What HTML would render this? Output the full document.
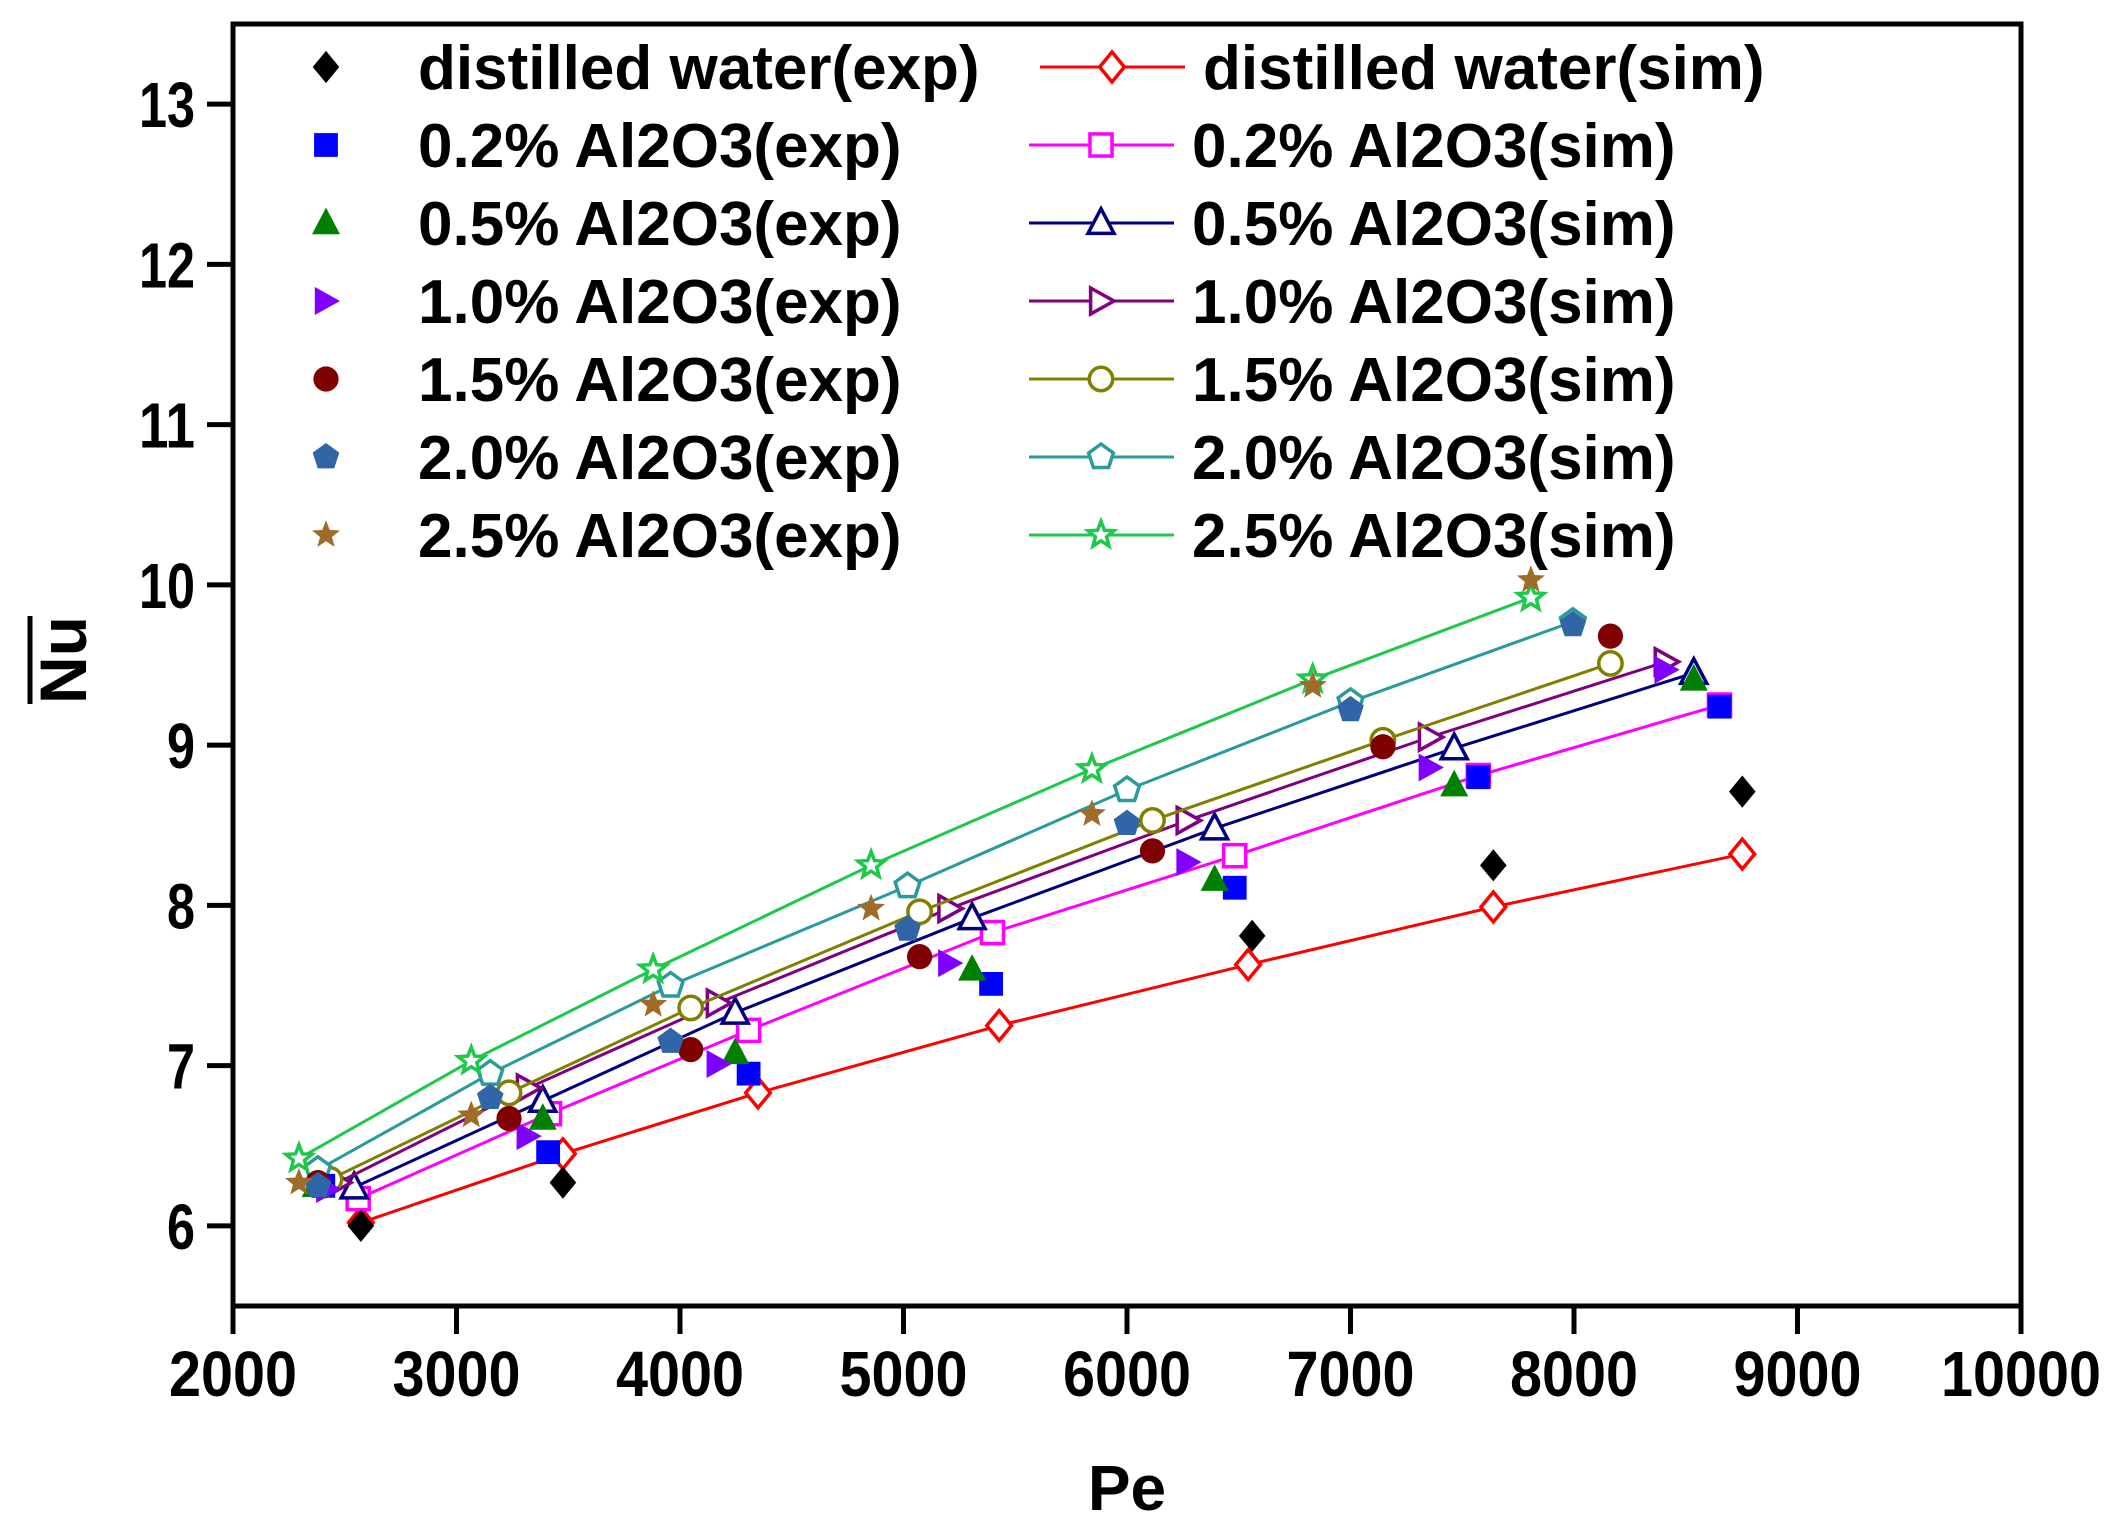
<!DOCTYPE html>
<html><head><meta charset="utf-8"><style>
html,body{margin:0;padding:0;background:#fff;}
svg{display:block;font-family:"Liberation Sans",Arial,sans-serif;font-weight:bold;}
</style></head><body>
<svg id="chart" width="2112" height="1537" viewBox="0 0 2112 1537" xmlns="http://www.w3.org/2000/svg"></svg>
<script>
const xTicks=[2000,3000,4000,5000,6000,7000,8000,9000,10000];
const yTicks=[6,7,8,9,10,11,12,13];
const seriesNames=["distilled water","0.2% Al2O3","0.5% Al2O3","1.0% Al2O3","1.5% Al2O3","2.0% Al2O3","2.5% Al2O3"];
const simPe=[
[2572,3476,4349,5428,6542,7639,8753],
[2560,3416,4307,5398,6482,7572,8651],
[2542,3386,4247,5307,6392,7464,8536],
[2470,3319,4169,5205,6271,7355,8410],
[2434,3235,4048,5072,6114,7145,8163],
[2380,3151,3958,5018,6000,7000,7995],
[2295,3066,3880,4855,5843,6831,7807]];
const simNu=[
[6.02,6.45,6.83,7.25,7.63,7.99,8.32],
[6.17,6.70,7.22,7.83,8.31,8.81,9.25],
[6.24,6.78,7.33,7.92,8.48,8.98,9.45],
[6.27,6.86,7.39,7.98,8.53,9.05,9.52],
[6.29,6.83,7.36,7.96,8.53,9.03,9.51],
[6.35,6.95,7.50,8.12,8.72,9.27,9.77],
[6.42,7.03,7.60,8.25,8.85,9.41,9.92]];
const expPe=[
[2572,3476,6560,7639,8753],
[2404,3410,4307,5392,6482,7572,8651],
[2370,3386,4247,5307,6392,7464,8536],
[2422,3319,4169,5205,6271,7355,8410],
[2380,3235,4048,5072,6114,7145,8163],
[2380,3151,3958,5018,6000,7000,7995],
[2295,3066,3880,4855,5843,6831,7807]];
const expNu=[
[6.00,6.27,7.81,8.25,8.71],
[6.25,6.46,6.95,7.51,8.11,8.80,9.24],
[6.25,6.67,7.08,7.60,8.16,8.75,9.41],
[6.23,6.56,7.01,7.64,8.27,8.86,9.47],
[6.27,6.67,7.10,7.68,8.34,8.99,9.68],
[6.25,6.80,7.15,7.85,8.51,9.22,9.75],
[6.27,6.69,7.38,7.98,8.57,9.37,10.03]];

const simColors=["#ff0000","#ff00ff","#000080","#800080","#808000","#2a9a9a","#1ec84a"];
const expColors=["#000000","#0000ff","#008000","#8000ff","#800000","#3066a8","#a06a28"];
const shapes=["diamond","square","triangle","right","circle","pentagon","star"];

const X0=233,X1=2021,Y0=1306,Y1=24;
function xs(v){return X0+(v-2000)/8000*(X1-X0);}
function ys(v){return Y0-(v-5.5)/8*(Y0-Y1);}
const NS="http://www.w3.org/2000/svg";
const svg=document.getElementById('chart');
function mk(tag,attrs,parent){const e=document.createElementNS(NS,tag);for(const k in attrs)e.setAttribute(k,attrs[k]);(parent||svg).appendChild(e);return e;}

function marker(shape,cx,cy,s,fill,stroke,parent){
  const r=s/2;let e;
  const sw=fill==="none"?3.5:0;
  const f=fill==="none"?"#fff":fill;
  const common={fill:f,stroke:fill==="none"?stroke:"none","stroke-width":sw};
  if(shape==="diamond"){e=mk('polygon',Object.assign({points:`${cx},${cy-r*1.15} ${cx+r*0.95},${cy} ${cx},${cy+r*1.15} ${cx-r*0.95},${cy}`},common),parent);}
  else if(shape==="square"){e=mk('rect',Object.assign({x:cx-r*0.85,y:cy-r*0.85,width:r*1.7,height:r*1.7},common),parent);}
  else if(shape==="triangle"){e=mk('polygon',Object.assign({points:`${cx},${cy-r*1.1} ${cx+r},${cy+r*0.8} ${cx-r},${cy+r*0.8}`},common),parent);}
  else if(shape==="right"){e=mk('polygon',Object.assign({points:`${cx-r*0.8},${cy-r} ${cx+r*1.0},${cy} ${cx-r*0.8},${cy+r}`},common),parent);}
  else if(shape==="circle"){e=mk('circle',Object.assign({cx:cx,cy:cy,r:r*0.9},common),parent);}
  else if(shape==="pentagon"){let p=[];for(let i=0;i<5;i++){const a=-Math.PI/2+i*2*Math.PI/5;p.push((cx+r*Math.cos(a))+','+(cy+r*Math.sin(a)));}e=mk('polygon',Object.assign({points:p.join(' ')},common),parent);}
  else {let p=[];for(let i=0;i<10;i++){const a=-Math.PI/2+i*Math.PI/5;const rr=i%2?r*0.45:r*1.05;p.push((cx+rr*Math.cos(a))+','+(cy+rr*Math.sin(a)));}e=mk('polygon',Object.assign({points:p.join(' ')},common),parent);}
  return e;
}

// frame
const frame=mk('rect',{x:X0,y:Y1,width:X1-X0,height:Y0-Y1,fill:"none",stroke:"#000","stroke-width":5});



// ticks
xTicks.forEach(t=>{
  const l=mk('line',{x1:xs(t),x2:xs(t),y1:Y0,y2:Y0+28,stroke:"#000","stroke-width":5});
  
  
  const s=String(t);
  const tx=mk('text',{x:xs(t),y:Y0+90,"text-anchor":"middle","font-size":64,textLength:s.length*32,lengthAdjust:"spacingAndGlyphs"});
  tx.textContent=s;
  
  
});
yTicks.forEach(t=>{
  const l=mk('line',{x1:X0-26,x2:X0,y1:ys(t),y2:ys(t),stroke:"#000","stroke-width":5});
  
  
  const s=String(t);
  const tx=mk('text',{x:X0-38,y:ys(t)+23,"text-anchor":"end","font-size":64,textLength:s.length*28,lengthAdjust:"spacingAndGlyphs"});
  tx.textContent=s;
  
  
});

// axis titles
const xt=mk('text',{x:1127,y:1510,"text-anchor":"middle","font-size":64});
xt.textContent="Pe";


const yg=mk('g',{transform:"translate(86,660) rotate(-90)"});


const yt=mk('text',{x:0,y:0,"text-anchor":"middle","font-size":66},yg);
yt.textContent="Nu";
mk('line',{x1:-44,x2:44,y1:-56,y2:-56,stroke:"#000","stroke-width":5},yg);

// series
for(let i=0;i<seriesNames.length;i++){
  const g=mk('g',{});
  
  
  const pts=simPe[i].map((p,j)=>xs(p)+','+ys(simNu[i][j])).join(' ');
  const pl=mk('polyline',{points:pts,fill:"none",stroke:simColors[i],"stroke-width":3},g);
  
  
  simPe[i].forEach((p,j)=>{
    const m=marker(shapes[i],xs(p),ys(simNu[i][j]),26,"none",simColors[i],g);
    
    
  });
}
for(let i=0;i<seriesNames.length;i++){
  const g=mk('g',{});
  
  
  expPe[i].forEach((p,j)=>{
    const m=marker(shapes[i],xs(p),ys(expNu[i][j]),28,expColors[i],null,g);
    
    
  });
}

// legend
const lg=mk('g',{});


for(let i=0;i<seriesNames.length;i++){
  const yy=67+i*78;
  const e1=marker(shapes[i],326,yy,28,expColors[i],null,lg);
  
  
  const t1=mk('text',{x:418,y:yy+22,"font-size":62},lg);
  t1.textContent=seriesNames[i]+"(exp)";
  
  
  const off=i===0?11:0;
  const ln=mk('line',{x1:1029+off,x2:1174+off,y1:yy,y2:yy,stroke:simColors[i],"stroke-width":3},lg);
  
  
  const e2=marker(shapes[i],1101+off,yy,26,"none",simColors[i],lg);
  
  
  const t2=mk('text',{x:1192+off,y:yy+22,"font-size":62},lg);
  t2.textContent=seriesNames[i]+"(sim)";
  
  
}
</script>
</body></html>
